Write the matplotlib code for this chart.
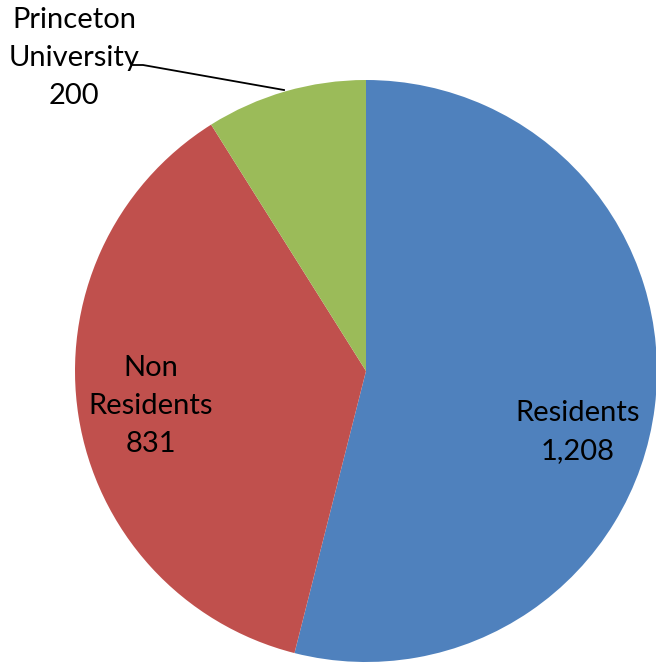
import matplotlib.pyplot as plt

# data
labels = ['Residents', 'Non\nResidents', 'Princeton\nUniversity']
values = [1208, 831, 200]
colors = ['#4F81BD', '#C0504D', '#9BBB59']

W, H = 656, 663
fig = plt.figure(figsize=(W / 100, H / 100), dpi=100)
ax = fig.add_axes([0, 0, 1, 1])

cx, cy, r = 366, H - 371, 291
ax.pie(values, colors=colors, startangle=90, counterclock=False,
       center=(cx, cy), radius=r, frame=True,
       wedgeprops=dict(linewidth=0))
ax.set_xlim(0, W)
ax.set_ylim(0, H)
ax.set_aspect('equal')
ax.axis('off')

font = dict(family='Lato', fontsize=21, ha='center', va='center', linespacing=1.55)
label_pos = [(578, H - 432), (151, H - 406), (74, H - 58)]
for lab, v, (x, y) in zip(labels, values, label_pos):
    ax.text(x, y, f'{lab}\n{v:,}', **font)

# leader line for the small slice
ax.plot([133, 143, 284], [H - 65, H - 65, H - 90], color='black', lw=1.3)

fig.savefig('out.png', dpi=100)
